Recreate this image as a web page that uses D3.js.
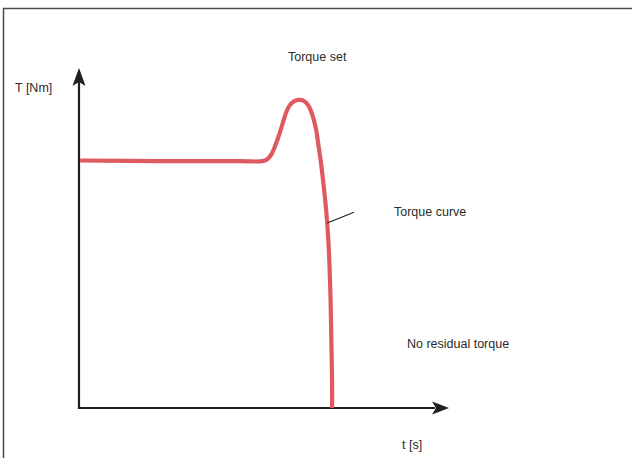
<!DOCTYPE html>
<html>
<head>
<meta charset="utf-8">
<script src="https://cdn.jsdelivr.net/npm/d3@7"></script>
<style>
  html, body { margin: 0; padding: 0; background: #fff; }
  svg { display: block; }
  text { font-family: "Liberation Sans", Arial, Helvetica, sans-serif; font-size: 12.5px; fill: #2b2b2b; }
</style>
</head>
<body>
<script>
// ---- data (t in arbitrary seconds, T in arbitrary Nm) ----
const timeValues   = [0.03, 2.19, 4.35, 4.95, 5.08, 5.19, 5.28, 5.38, 5.46, 5.54, 5.62, 5.70, 5.81, 5.95, 6.08, 6.19, 6.27, 6.34, 6.41, 6.47, 6.54, 6.61, 6.68, 6.73, 6.77, 6.80, 6.82, 6.84, 6.84];
const torqueValues = [7.28, 7.26, 7.26, 7.26, 7.31, 7.44, 7.65, 7.94, 8.21, 8.50, 8.75, 8.91, 9.02, 9.06, 9.03, 8.91, 8.74, 8.50, 8.18, 7.74, 7.21, 6.56, 5.82, 5.09, 4.21, 3.18, 2.00, 0.82, 0.00];
const axisLabels   = ["T [Nm]", "t [s]"];
const annotations  = ["Torque set", "Torque curve", "No residual torque"];
const leaderFrom   = [6.71, 5.44];
const leaderTo     = [7.43, 5.76];

const W = 632, H = 458;
const svg = d3.select("body").append("svg").attr("width", W).attr("height", H);

// frame
svg.append("path")
  .attr("d", `M3.5,${H} V8.5 H${W}`)
  .attr("fill", "none").attr("stroke", "#4a4a4a").attr("stroke-width", 1.5);

const x = d3.scaleLinear().domain([0, 10]).range([79, 449]);
const y = d3.scaleLinear().domain([0, 10]).range([408, 68]);

// axes (no ticks)
const axisColor = "#1e1e1e";
const gx = svg.append("g").attr("transform", `translate(0,${y(0)})`)
  .call(d3.axisBottom(x).tickValues([]).tickSizeOuter(0));
const gy = svg.append("g").attr("transform", `translate(${x(0)},0)`)
  .call(d3.axisLeft(y).tickValues([]).tickSizeOuter(0));
[gx, gy].forEach(g => g.select(".domain").attr("stroke", axisColor).attr("stroke-width", 2.2));
gx.select(".domain").attr("d", `M${x(0) - 1.1},0H${x(10) - 14}`);
gy.select(".domain").attr("d", `M0,${y(0) + 1.1}V${y(10) + 14}`);

// arrowheads
const xt = x(10), yt = y(10);
svg.append("path")
  .attr("d", `M${xt},${y(0)} L${xt - 17},${y(0) - 6.5} L${xt - 13},${y(0)} L${xt - 17},${y(0) + 6.5} Z`)
  .attr("fill", axisColor);
svg.append("path")
  .attr("d", `M${x(0)},${yt} L${x(0) - 6.5},${yt + 18} L${x(0)},${yt + 14} L${x(0) + 6.5},${yt + 18} Z`)
  .attr("fill", axisColor);

// torque curve
const pts = timeValues.map((t, i) => [t, torqueValues[i]]);
const line = d3.line().x(d => x(d[0])).y(d => y(d[1])).curve(d3.curveCatmullRom.alpha(0.5));
svg.append("path").datum(pts)
  .attr("d", line)
  .attr("fill", "none").attr("stroke", "#df5a60").attr("stroke-width", 4.2)
  .attr("stroke-linecap", "butt").attr("stroke-linejoin", "round");

// leader line
svg.append("line")
  .attr("x1", x(leaderFrom[0])).attr("y1", y(leaderFrom[1]))
  .attr("x2", x(leaderTo[0])).attr("y2", y(leaderTo[1]))
  .attr("stroke", "#1e1e1e").attr("stroke-width", 1.1);

// labels
svg.append("text").attr("x", 15).attr("y", 92).text(axisLabels[0]);
svg.append("text").attr("x", 402).attr("y", 449).text(axisLabels[1]);
svg.append("text").attr("x", 288).attr("y", 61).text(annotations[0]);
svg.append("text").attr("x", 394).attr("y", 216).text(annotations[1]);
svg.append("text").attr("x", 407).attr("y", 348).text(annotations[2]);
</script>
</body>
</html>
